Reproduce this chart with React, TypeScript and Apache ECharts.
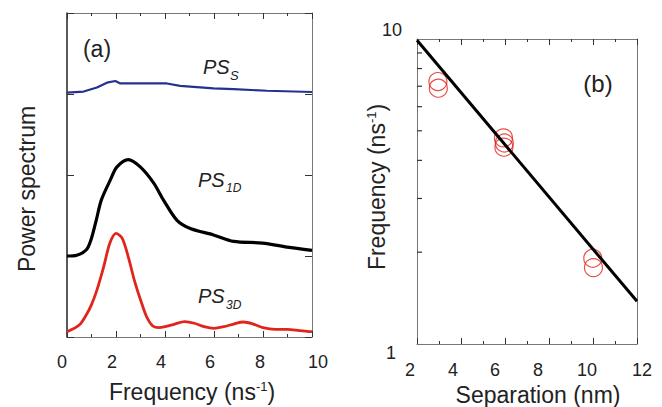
import React, { useEffect, useRef } from "react";
import * as echarts from "echarts";

// Panel (a): power spectra (arbitrary units, offset traces)
const ps3dX = [0, 0.5, 0.8, 1.0, 1.2, 1.5, 1.75, 2.0, 2.25, 2.5, 2.75, 3.0, 3.25, 3.5, 3.75, 4.0, 4.4, 4.8, 5.2, 5.6, 6.0, 6.4, 6.8, 7.2, 7.6, 8.0, 8.5, 9.0, 9.5, 10];
const ps3dY = [0.065, 0.148, 0.28, 0.4, 0.56, 0.87, 1.16, 1.28, 1.22, 0.99, 0.7, 0.46, 0.25, 0.136, 0.115, 0.127, 0.16, 0.19, 0.17, 0.127, 0.107, 0.127, 0.16, 0.185, 0.16, 0.115, 0.095, 0.095, 0.078, 0.065];
const ps1dX = [0, 0.4, 0.8, 1.0, 1.2, 1.4, 1.77, 2.04, 2.5, 2.99, 3.54, 3.94, 4.49, 5.03, 5.98, 6.8, 7.98, 8.98, 10];
const ps1dY = [1.0, 1.01, 1.08, 1.22, 1.45, 1.69, 1.94, 2.1, 2.19, 2.1, 1.9, 1.69, 1.44, 1.34, 1.26, 1.18, 1.16, 1.11, 1.07];
const psSX = [0, 0.68, 1.22, 1.63, 1.97, 2.18, 4.08, 4.62, 5.98, 6.8, 8.16, 10];
const psSY = [3.016, 3.03, 3.08, 3.14, 3.16, 3.13, 3.13, 3.1, 3.07, 3.06, 3.04, 3.025];

// Panel (b): frequency vs separation
const sepX = [2.95, 2.97, 5.93, 5.97, 5.95, 9.99, 10.02];
const freqY = [7.25, 6.9, 4.74, 4.56, 4.42, 1.91, 1.78];
const fitX = [2, 12];
const fitY = [9.9, 1.38];
const logMinorTicks = [2, 3, 4, 5, 6, 7, 8, 9];

const FONT = "'Liberation Sans', Arial, sans-serif";

const zip = (xs: number[], ys: number[]) => xs.map((x, i) => [x, ys[i]]);

// label shifts (px) to match the reference placement
const shiftA: Record<number, number> = { 0: -5, 2: -4, 4: -4, 6: -4, 8: -3, 10: 6 };
const shiftB: Record<number, number> = { 2: -7, 4: -8, 6: -10, 8: -11, 10: -6, 12: 5 };

function richFor(shifts: Record<number, number>, prefix: string) {
  const rich: Record<string, any> = {};
  Object.keys(shifts).forEach((k) => {
    const d = shifts[Number(k)];
    rich[prefix + k] = {
      fontSize: 18,
      fontFamily: FONT,
      color: "#222",
      padding: d < 0 ? [0, -2 * d, 0, 0] : [0, 0, 0, 2 * d],
    };
  });
  return rich;
}

export default function App() {
  const ref = useRef<HTMLDivElement>(null);
  useEffect(() => {
    if (!ref.current) return;
    const chart = echarts.init(ref.current, undefined, { renderer: "svg" });
    const axisLineGray = { show: true, onZero: false, lineStyle: { color: "#777", width: 1 } };
    const baseX = (gridIndex: number, min: number, max: number) => ({
      type: "value" as const,
      gridIndex,
      min,
      max,
      interval: 2,
      splitLine: { show: false },
      axisTick: { show: true, inside: true, length: 6, lineStyle: { color: "#333" } },
      minorTick: { show: true, splitNumber: 2, length: 3, lineStyle: { color: "#333" } },
    });
    const option: any = {
      animation: false,
      backgroundColor: "#fff",
      grid: [
        { left: 67, top: 13, right: 350, bottom: 70 },
        { left: 417, top: 39, right: 25, bottom: 63 },
      ],
      xAxis: [
        {
          ...baseX(0, 0, 10),
          axisLine: axisLineGray,
          axisLabel: {
            margin: 16,
            showMinLabel: true,
            showMaxLabel: true,
            formatter: (v: number) => `{a${v}|${v}}`,
            rich: richFor(shiftA, "a"),
          },
        },
        {
          ...baseX(0, 0, 10),
          position: "top",
          axisLine: axisLineGray,
          axisLabel: { show: false },
        },
        {
          ...baseX(1, 2, 12),
          axisLine: axisLineGray,
          axisLabel: {
            margin: 17,
            showMinLabel: true,
            showMaxLabel: true,
            formatter: (v: number) => `{b${v}|${v}}`,
            rich: richFor(shiftB, "b"),
          },
        },
        {
          ...baseX(1, 2, 12),
          position: "top",
          axisLine: axisLineGray,
          axisLabel: { show: false },
        },
      ],
      yAxis: [
        {
          type: "value",
          gridIndex: 0,
          min: 0,
          max: 4,
          interval: 1,
          splitLine: { show: false },
          axisLine: { show: true, onZero: false, lineStyle: { color: "#222", width: 1.5 } },
          axisTick: { show: true, inside: true, length: 7, lineStyle: { color: "#333" } },
          axisLabel: { show: false },
        },
        {
          type: "value",
          gridIndex: 0,
          position: "right",
          min: 0,
          max: 4,
          interval: 1,
          splitLine: { show: false },
          axisLine: axisLineGray,
          axisTick: { show: true, inside: true, length: 7, lineStyle: { color: "#333" } },
          axisLabel: { show: false },
        },
        {
          type: "log",
          logBase: 10,
          gridIndex: 1,
          min: 1,
          max: 10,
          splitLine: { show: false },
          axisLine: axisLineGray,
          axisTick: { show: false },
          axisLabel: {
            margin: 15,
            showMinLabel: true,
            showMaxLabel: true,
            formatter: (v: number) => `{y${Math.round(v)}|${Math.round(v)}}`,
            rich: {
              y10: { fontSize: 18, fontFamily: FONT, color: "#222", padding: [0, 0, 18, 0] },
              y1: { fontSize: 18, fontFamily: FONT, color: "#222", padding: [18, 6, 0, 0] },
            },
          },
        },
        {
          type: "log",
          logBase: 10,
          gridIndex: 1,
          position: "right",
          min: 1,
          max: 10,
          splitLine: { show: false },
          axisLine: axisLineGray,
          axisTick: { show: false },
          axisLabel: { show: false },
        },
      ],
      series: [
        {
          type: "line",
          xAxisIndex: 0,
          yAxisIndex: 0,
          data: zip(psSX, psSY),
          showSymbol: false,
          lineStyle: { color: "#25308f", width: 2.2 },
        },
        {
          type: "line",
          xAxisIndex: 0,
          yAxisIndex: 0,
          data: zip(ps1dX, ps1dY),
          showSymbol: false,
          smooth: 0.3,
          lineStyle: { color: "#000", width: 3.2 },
        },
        {
          type: "line",
          xAxisIndex: 0,
          yAxisIndex: 0,
          data: zip(ps3dX, ps3dY),
          showSymbol: false,
          smooth: 0.3,
          lineStyle: { color: "#e0261c", width: 2.8 },
        },
        {
          type: "line",
          xAxisIndex: 2,
          yAxisIndex: 2,
          data: zip(fitX, fitY),
          showSymbol: false,
          lineStyle: { color: "#000", width: 3 },
        },
        {
          type: "scatter",
          xAxisIndex: 2,
          yAxisIndex: 2,
          data: zip(sepX, freqY),
          symbol: "circle",
          symbolSize: 18,
          itemStyle: { color: "transparent", borderColor: "#e0261c", borderWidth: 1.2 },
        },
        {
          type: "custom",
          coordinateSystem: "cartesian2d",
          xAxisIndex: 2,
          yAxisIndex: 2,
          silent: true,
          data: logMinorTicks.map((v) => [2, v]),
          encode: { x: 0, y: 1 },
          renderItem: (_p: any, api: any) => {
            const pt = api.coord([api.value(0), api.value(1)]);
            return {
              type: "rect",
              shape: { x: pt[0], y: pt[1] - 0.6, width: 5, height: 1.2 },
              style: { fill: "#333" },
            };
          },
        },
      ],
      graphic: [
        { type: "text", x: 97, y: 49, style: { text: "(a)", font: `23px ${FONT}`, fill: "#222", align: "center", verticalAlign: "middle" } },
        { type: "text", x: 598, y: 83, style: { text: "(b)", font: `24px ${FONT}`, fill: "#222", align: "center", verticalAlign: "middle" } },
        { type: "text", x: 203, y: 67, style: { text: "PS", font: `italic 20px ${FONT}`, fill: "#222", align: "left", verticalAlign: "middle" } },
        { type: "text", x: 230, y: 75, style: { text: "S", font: `italic 13px ${FONT}`, fill: "#222", align: "left", verticalAlign: "middle" } },
        { type: "text", x: 198, y: 180, style: { text: "PS", font: `italic 20px ${FONT}`, fill: "#222", align: "left", verticalAlign: "middle" } },
        { type: "text", x: 226, y: 188, style: { text: "1D", font: `italic 12px ${FONT}`, fill: "#222", align: "left", verticalAlign: "middle" } },
        { type: "text", x: 198, y: 296, style: { text: "PS", font: `italic 20px ${FONT}`, fill: "#222", align: "left", verticalAlign: "middle" } },
        { type: "text", x: 226, y: 305, style: { text: "3D", font: `italic 12px ${FONT}`, fill: "#222", align: "left", verticalAlign: "middle" } },
        {
          type: "text", x: 27, y: 189, rotation: Math.PI / 2,
          style: { text: "Power spectrum", font: `23px ${FONT}`, fill: "#222", align: "center", verticalAlign: "middle" },
        },
        {
          type: "text", x: 192, y: 392,
          style: {
            text: "{m|Frequency (ns}{s|-1}{m|)}",
            align: "center", verticalAlign: "middle",
            rich: {
              m: { fontSize: 23, fontFamily: FONT, fill: "#222", color: "#222" },
              s: { fontSize: 13, fontFamily: FONT, fill: "#222", color: "#222", padding: [0, 0, 12, 0] },
            },
          },
        },
        {
          type: "text", x: 377, y: 187, rotation: Math.PI / 2,
          style: {
            text: "{m|Frequency (ns}{s|-1}{m|)}",
            align: "center", verticalAlign: "middle",
            rich: {
              m: { fontSize: 23, fontFamily: FONT, fill: "#222", color: "#222" },
              s: { fontSize: 13, fontFamily: FONT, fill: "#222", color: "#222", padding: [0, 0, 12, 0] },
            },
          },
        },
        {
          type: "text", x: 538, y: 395,
          style: { text: "Separation (nm)", font: `23px ${FONT}`, fill: "#222", align: "center", verticalAlign: "middle" },
        },
      ],
    };
    chart.setOption(option);
    return () => chart.dispose();
  }, []);
  return (
    <div
      ref={ref}
      style={{ position: "absolute", left: 0, top: 0, width: 662, height: 407, background: "#fff" }}
    />
  );
}
